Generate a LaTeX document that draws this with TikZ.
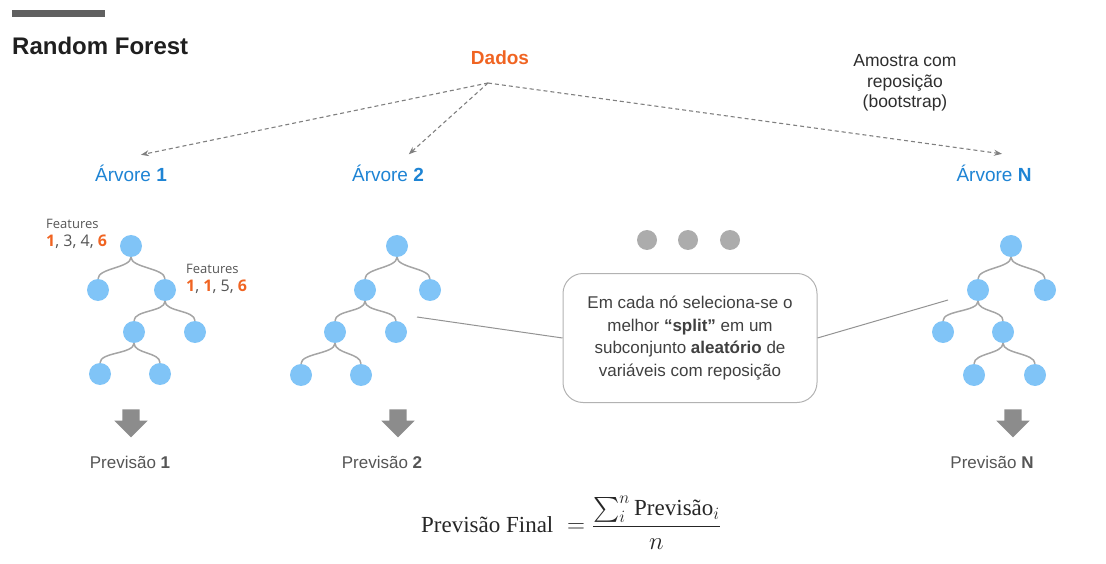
\documentclass[tikz,border=0pt]{standalone}
\usepackage{fontspec}
\usepackage{amsmath}
\setsansfont{Liberation Sans}
\newfontfamily\featfont{Open Sans}
\newfontfamily\formfont{Liberation Serif}
\usetikzlibrary{arrows.meta,shapes.arrows,positioning}
\definecolor{dadosorange}{RGB}{240,100,34}
\definecolor{arvblue}{RGB}{30,132,212}
\definecolor{leafblue}{RGB}{128,196,247}
\definecolor{branchgray}{RGB}{165,165,165}
\definecolor{txtgray}{RGB}{85,85,85}
\definecolor{blockgray}{RGB}{140,140,140}
\newcommand{\hl}[1]{\textcolor{dadosorange}{\textbf{#1}}}

\begin{document}
\begin{tikzpicture}[x=1pt,y=-1pt,>=Stealth]
        \tikzstyle{leaf} = [circle, fill=leafblue, minimum size=22pt, inner sep=0pt]
        \tikzstyle{branch} = [draw=branchgray, line width=1.5pt, to path={.. controls +(0,22) and +(0,-22) .. (\tikztotarget)}]
        \tikzstyle{sample} = [->, draw=gray, dash pattern=on 4pt off 3pt, line width=1.1pt, shorten >=1pt]
        \tikzstyle{treetitle} = [font=\sffamily\fontsize{19}{22}\selectfont, text=arvblue]
        \tikzstyle{pred} = [font=\sffamily\fontsize{17}{20}\selectfont, text=txtgray]
        \tikzstyle{feat} = [font=\featfont\fontsize{13}{18}\selectfont, text=txtgray, align=left, anchor=west, inner sep=0pt]
        \tikzstyle{downarrow} = [single arrow, shape border rotate=270, fill=blockgray, inner xsep=8.5pt, inner ysep=8.5pt, minimum height=28pt, single arrow head extend=8pt]
        \tikzstyle{dot} = [circle, fill=gray!65, minimum size=20pt, inner sep=0pt]
        \tikzstyle{link} = [draw=gray!85, line width=1pt]

        \useasboundingbox (0,0) rectangle (1106,564);

        % Header
        \fill[gray!75!black] (12,10) rectangle (105,17);
        \node[anchor=base west, inner sep=0pt, font=\sffamily\bfseries\fontsize{24}{28}\selectfont, text=black!88] (title) at (12,55) {Random Forest};
        \node[font=\sffamily\bfseries\fontsize{19}{22}\selectfont, text=dadosorange] (dados) at (500,58) {Dados};
        \node[align=center, font=\sffamily\fontsize{17.5}{20.5}\selectfont, text=black!82] (amostra) at (905,83) {Amostra com\\reposição\\(bootstrap)};

        % Tree titles
        \node[treetitle] (arv1) at (131,173) {Árvore \textbf{1}};
        \node[treetitle] (arv2) at (388,173) {Árvore \textbf{2}};
        \node[treetitle] (arvN) at (994,173) {Árvore \textbf{N}};

        % Bootstrap samples
        \coordinate (apex) at (488,83);
        \coordinate (s1) at (140,155);
        \coordinate (s2) at (408,155);
        \coordinate (sN) at (1003,154);
        \draw[sample] (apex) -- (s1);
        \draw[sample] (apex) -- (s2);
        \draw[sample] (apex) -- (sN);

        % Tree 1
        \node[leaf] (t1r) at (131,246) {};
        \node[leaf] (t1a) at (98,290) {};
        \node[leaf] (t1b) at (165,290) {};
        \node[leaf] (t1c) at (134,332) {};
        \node[leaf] (t1d) at (195,332) {};
        \node[leaf] (t1e) at (100,374) {};
        \node[leaf] (t1f) at (160,374) {};
        \path (t1r) edge[branch] (t1a);
        \path (t1r) edge[branch] (t1b);
        \path (t1b) edge[branch] (t1c);
        \path (t1b) edge[branch] (t1d);
        \path (t1c) edge[branch] (t1e);
        \path (t1c) edge[branch] (t1f);
        \node[feat] (feat1) at (46,234) {Features\\{\fontsize{16}{18}\selectfont\hl{1}, 3, 4, \hl{6}}};
        \node[feat] (feat2) at (186,279) {Features\\{\fontsize{16}{18}\selectfont\hl{1}, \hl{1}, 5, \hl{6}}};

        % Tree 2
        \node[leaf] (t2r) at (397,246) {};
        \node[leaf] (t2a) at (365,290) {};
        \node[leaf] (t2b) at (430,290) {};
        \node[leaf] (t2c) at (335,332) {};
        \node[leaf] (t2d) at (396,332) {};
        \node[leaf] (t2e) at (301,375) {};
        \node[leaf] (t2f) at (361,375) {};
        \path (t2r) edge[branch] (t2a);
        \path (t2r) edge[branch] (t2b);
        \path (t2a) edge[branch] (t2c);
        \path (t2a) edge[branch] (t2d);
        \path (t2c) edge[branch] (t2e);
        \path (t2c) edge[branch] (t2f);

        % Tree N
        \node[leaf] (tNr) at (1011,246) {};
        \node[leaf] (tNa) at (978,290) {};
        \node[leaf] (tNb) at (1045,290) {};
        \node[leaf] (tNc) at (943,332) {};
        \node[leaf] (tNd) at (1003,332) {};
        \node[leaf] (tNe) at (974,375) {};
        \node[leaf] (tNf) at (1035,375) {};
        \path (tNr) edge[branch] (tNa);
        \path (tNr) edge[branch] (tNb);
        \path (tNa) edge[branch] (tNc);
        \path (tNa) edge[branch] (tNd);
        \path (tNd) edge[branch] (tNe);
        \path (tNd) edge[branch] (tNf);

        % Dots and note
        \node[dot] (dot1) at (647,240) {};
        \node[dot] (dot2) at (688,240) {};
        \node[dot] (dot3) at (730,240) {};
        \node[draw=gray!60, line width=1pt, rounded corners=20pt, minimum width=254pt, minimum height=129pt,
              align=center, font=\sffamily\fontsize{17}{22.5}\selectfont, text=black!75] (note) at (690,338)
              {Em cada nó seleciona-se o\\melhor \textbf{“split”} em um\\subconjunto \textbf{aleatório} de\\variáveis com reposição};
        \coordinate (l2) at (417,317);
        \coordinate (lN) at (948,300);
        \draw[link] (l2) -- (note.west);
        \draw[link] (note.east) -- (lN);

        % Predictions
        \node[downarrow] (d1) at (131,419) {};
        \node[downarrow] (d2) at (398,419) {};
        \node[downarrow] (dN) at (1013,419) {};
        \node[pred] (p1) at (130,462) {Previsão \textbf{1}};
        \node[pred] (p2) at (382,462) {Previsão \textbf{2}};
        \node[pred] (pN) at (992,462) {Previsão \textbf{N}};

        % Final
        \node[font=\formfont\fontsize{23}{27}\selectfont, text=black!85] (final) at (571,523)
              {$\text{Previsão Final} \; = \dfrac{{\textstyle\sum_i^n}\, \text{Previsão}_i}{n}$};
    \end{tikzpicture}
\end{document}
